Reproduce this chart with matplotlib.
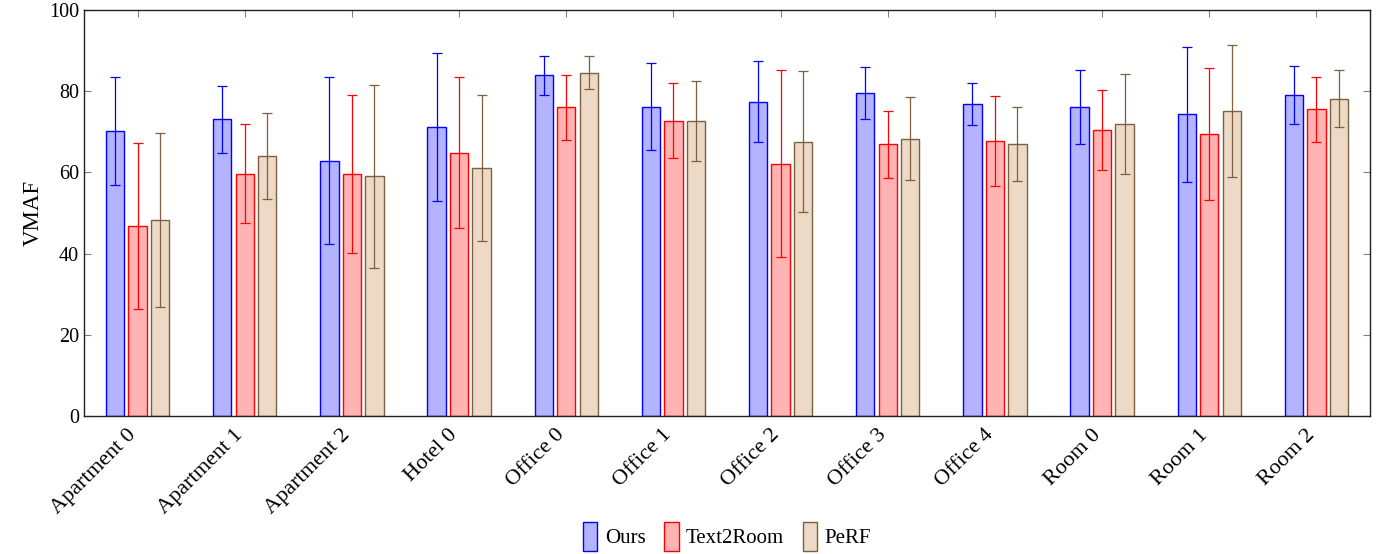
import numpy as np
import matplotlib
matplotlib.use('Agg')
import matplotlib.pyplot as plt
import matplotlib.transforms as mtransforms
from matplotlib.patches import Patch

plt.rcParams['font.family'] = ['Liberation Serif', 'DejaVu Serif']
plt.rcParams['mathtext.fontset'] = 'stix'

scenes = ['Apartment 0', 'Apartment 1', 'Apartment 2', 'Hotel 0', 'Office 0', 'Office 1',
          'Office 2', 'Office 3', 'Office 4', 'Room 0', 'Room 1', 'Room 2']

ours_mean = [70.2, 73.1, 62.9, 71.1, 83.9, 76.2, 77.4, 79.6, 76.8, 76.1, 74.3, 79.1]
ours_std = [13.4, 8.2, 20.5, 18.2, 4.8, 10.8, 10.0, 6.4, 5.2, 9.2, 16.6, 7.2]

t2r_mean = [46.8, 59.7, 59.6, 64.9, 76.0, 72.7, 62.1, 66.9, 67.7, 70.5, 69.4, 75.5]
t2r_std = [20.5, 12.2, 19.4, 18.5, 7.9, 9.2, 23.0, 8.2, 11.1, 9.8, 16.2, 8.1]

perf_mean = [48.2, 64.1, 59.0, 61.1, 84.6, 72.7, 67.6, 68.3, 66.9, 72.0, 75.2, 78.2]
perf_std = [21.4, 10.6, 22.6, 18.0, 4.1, 9.9, 17.4, 10.2, 9.1, 12.3, 16.3, 6.9]

series = [
    ('Ours', ours_mean, ours_std, '#b3b3ff', '#0000ff'),
    ('Text2Room', t2r_mean, t2r_std, '#ffb3b3', '#ff0000'),
    ('PeRF', perf_mean, perf_std, '#ecd9c6', '#7f5f3f'),
]

fig = plt.figure(figsize=(13.8, 5.54), dpi=100)
ax = fig.add_axes([84 / 1380, 1 - 416 / 554, 1286 / 1380, 406 / 554])

x = np.arange(len(scenes))
width = 0.17
step = 0.21
for i, (name, mean, std, fc, ec) in enumerate(series):
    pos = x + (i - 1) * step
    ax.bar(pos, mean, width, color=fc, edgecolor=ec, linewidth=1.0, label=name, zorder=2)
    ax.errorbar(pos, mean, yerr=std, fmt='none', ecolor=ec, elinewidth=0.9,
                capsize=3.8, capthick=0.9, zorder=3)

ax.set_xlim(-0.5, 11.5)
ax.set_ylim(0, 100)
ax.set_yticks([0, 20, 40, 60, 80, 100])
ax.set_xticks(x)
ax.tick_params(axis='both', direction='in', color='#808080',
               top=True, right=True, length=5)
ax.tick_params(axis='y', labelsize=14.5)
ax.tick_params(axis='x', pad=4, labelsize=16)
ax.set_xticklabels(scenes, rotation=45, ha='right', va='top', rotation_mode='anchor')
# nudge rotated labels so their ends sit under the ticks like in the original
shift = mtransforms.ScaledTranslation(-0.11, -0.04, fig.dpi_scale_trans)
for lbl in ax.get_xticklabels():
    lbl.set_transform(lbl.get_transform() + shift)
ax.set_ylabel('VMAF', fontsize=16.5, labelpad=4)
for s in ax.spines.values():
    s.set_linewidth(1.0)
    s.set_color('#202020')

handles = [Patch(facecolor=fc, edgecolor=ec, label=name) for name, _, _, fc, ec in series]
ax.legend(handles=handles, loc='lower center', bbox_to_anchor=(0.5, -0.352), ncol=3,
          frameon=False, fontsize=15, handlelength=0.7, handleheight=1.7,
          handletextpad=0.35, columnspacing=0.9, borderaxespad=0)

fig.savefig('out.png', dpi=100)
